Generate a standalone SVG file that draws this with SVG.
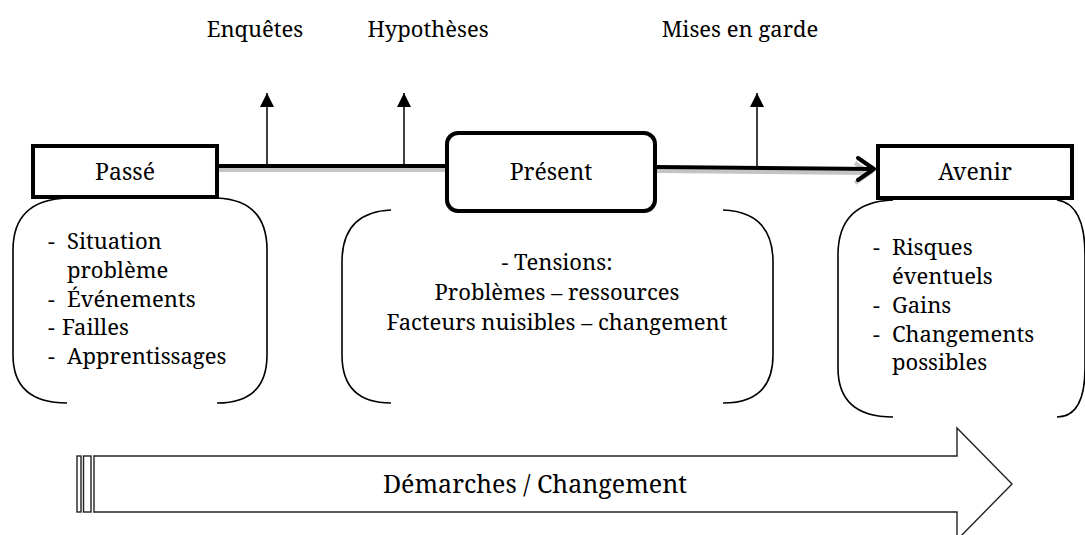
<svg xmlns="http://www.w3.org/2000/svg" width="1085" height="535" viewBox="0 0 1085 535">
  <defs>
    <style>
      text { font-family: 'Noto Serif', 'DejaVu Serif', serif; font-size: 22px; fill: #000; }
      .lbl { font-size: 22px; }
      .title { font-size: 23px; }
      .wide { font-size: 25px; }
      .mid { text-anchor: middle; }
      .box { fill: #fff; stroke: #000; stroke-width: 4; }
      .bracket { fill: none; stroke: #000; stroke-width: 1.6; }
      .axis { fill: none; stroke: #000; stroke-width: 4; }
      .shade { fill: none; stroke: #c4c4c4; stroke-width: 4; }
      .tick { stroke: #000; stroke-width: 1.5; }
      .big { fill: #fff; stroke: #222; stroke-width: 1.4; }
    </style>
    <marker id="up" viewBox="0 0 10 10" refX="10" refY="5" markerWidth="14" markerHeight="15" markerUnits="userSpaceOnUse" orient="auto">
      <path d="M0,0 L10,5 L0,10 Z" fill="#000"/>
    </marker>
  </defs>

  <!-- timeline labels -->
  <text class="mid lbl" x="255" y="37">Enquêtes</text>
  <text class="mid lbl" x="428" y="37">Hypothèses</text>
  <text class="mid lbl" x="740" y="37">Mises en garde</text>

  <g id="connectors">
    <!-- shaded underside of the main timeline -->
    <path class="shade" d="M217,170 L447,170 M655,171 L868,173"/>
    <path class="shade" d="M855,163 L870,173 L855,183"/>
    <!-- main timeline -->
    <path class="axis" d="M217,166 L447,166 M655,167 L874,169"/>
    <path class="axis" stroke-linejoin="round" stroke-linecap="round" d="M858,158 L874,169 L858,180"/>
    <!-- upward ticks -->
    <line class="tick" x1="267" y1="166" x2="267" y2="93" marker-end="url(#up)"/>
    <line class="tick" x1="404" y1="166" x2="404" y2="93" marker-end="url(#up)"/>
    <line class="tick" x1="757" y1="167" x2="757" y2="93" marker-end="url(#up)"/>
  </g>

  <!-- Passé -->
  <g id="passe">
    <path class="bracket" d="M67,198 Q13,200 13,250 L13,355 Q13,403 67,403 M217,198 Q267,200 267,250 L267,355 Q267,403 217,403"/>
    <rect class="box" x="33" y="146" width="184" height="51"/>
    <text class="mid title" x="125" y="180">Passé</text>
    <text x="48" y="249">-</text><text x="67" y="249">Situation</text>
    <text x="67" y="278">problème</text>
    <text x="48" y="307">-</text><text x="67" y="307">Événements</text>
    <text x="48" y="335">-</text><text x="62" y="335">Failles</text>
    <text x="48" y="364">-</text><text x="67" y="364">Apprentissages</text>
  </g>

  <!-- Présent -->
  <g id="present">
    <path class="bracket" d="M391,210 Q342,212 342,262 L342,355 Q342,403 391,403 M723,210 Q773,212 773,262 L773,355 Q773,403 723,403"/>
    <rect class="box" x="447" y="133" width="208" height="78" rx="11"/>
    <text class="mid title" x="551" y="180">Présent</text>
    <text class="mid" x="557" y="270">- Tensions:</text>
    <text class="mid" x="557" y="300">Problèmes – ressources</text>
    <text class="mid" x="557" y="330">Facteurs nuisibles – changement</text>
  </g>

  <!-- Avenir -->
  <g id="avenir">
    <path class="bracket" d="M893,200 Q838,202 838,255 L838,368 Q838,417 893,417 M1057,200 Q1085,204 1085,255 L1085,368 Q1085,417 1057,417"/>
    <rect class="box" x="878" y="146" width="194" height="52"/>
    <text class="mid title" x="975" y="180">Avenir</text>
    <text x="873" y="255">-</text><text x="892" y="255">Risques</text>
    <text x="892" y="284">éventuels</text>
    <text x="873" y="313">-</text><text x="892" y="313">Gains</text>
    <text x="873" y="342">-</text><text x="892" y="342">Changements</text>
    <text x="892" y="370">possibles</text>
  </g>

  <!-- Démarches / Changement -->
  <g id="demarches">
    <rect class="big" x="77" y="456" width="4" height="56"/>
    <rect class="big" x="83.5" y="456" width="7.5" height="56"/>
    <path class="big" d="M94,456 L957,456 L957,428 L1012,484 L957,540 L957,512 L94,512 Z"/>
    <text class="mid wide" x="535" y="493">Démarches / Changement</text>
  </g>
</svg>
